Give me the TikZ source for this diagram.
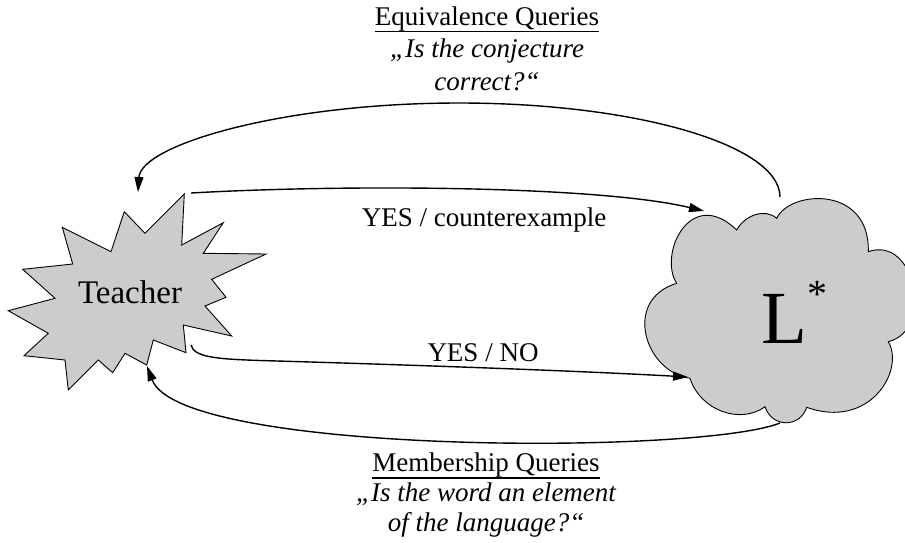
\documentclass[tikz,border=0pt]{standalone}
\usepackage{fontspec}
\setmainfont{Liberation Serif}
\usetikzlibrary{arrows.meta}

% underline drawn a fixed distance below the baseline
\newcommand\ulText[1]{\setbox0\hbox{#1}\rlap{\rule[-7pt]{\wd0}{1.3pt}}\box0}

\tikzset{
  blob/.style={draw=black, line width=0.9pt, fill=black!20, line join=miter},
  flow/.style={line width=1.4pt, -{Triangle[length=15pt,width=9pt]}},
  lbl/.style={inner sep=0pt, anchor=base, font=\fontsize{27}{31}\selectfont},
  qlbl/.style={lbl, font=\fontsize{27}{31}\selectfont\itshape},
}

\begin{document}
\begin{tikzpicture}[x=1pt,y=-1pt]
\useasboundingbox (0,0) rectangle (905,542);

% Teacher: jagged star
\draw[blob] (184.3,194) -- (181.7,245) -- (223.3,222.7) -- (203.3,253.3)
  -- (266,254) -- (211.7,279.3) -- (226,297.3) -- (205,306)
  -- (231.7,336) -- (183.3,325) -- (186,352.7) -- (153.3,340)
  -- (146.7,365) -- (125,353.3) -- (112.7,372.7) -- (98.3,360)
  -- (68.3,390) -- (65,360) -- (24,355.7) -- (48.3,333.3)
  -- (8.3,310.7) -- (55,298.3) -- (22.7,269.3) -- (72.7,264)
  -- (62.3,227.3) -- (111,251.7) -- (124.3,211.7) -- (145,233.3) -- cycle;
\node[lbl, font=\fontsize{33}{33}\selectfont] (teacher) at (130,303.3) {Teacher};

% L*: cloud
\draw[blob] (676.7,283.3)
  .. controls (658,255) and (690,185) .. (736.7,230)
  .. controls (745,215) and (765,208) .. (776.7,218.3)
  .. controls (790,190) and (870,185) .. (868.3,251.7)
  .. controls (915,235) and (935,330) .. (888.3,341.7)
  .. controls (905,370) and (870,430) .. (806.7,407.3)
  .. controls (800,428) and (772,428) .. (765,406.7)
  .. controls (740,425) and (700,410) .. (690,378.3)
  .. controls (645,372) and (622,300) .. (676.7,283.3) -- cycle;
\node[inner sep=0pt, anchor=base west, font=\fontsize{75}{75}\selectfont]
  (learner) at (761.4,343) {L\raisebox{35.7pt}{\fontsize{40}{40}\selectfont *}};

% connector end points on the two shapes
\coordinate (teacherTop) at (138,192);
\coordinate (teacherUpper) at (191,193);
\coordinate (teacherLower) at (191,345);
\coordinate (teacherBottom) at (147,366);
\coordinate (cloudAbove) at (780,197);
\coordinate (cloudTop) at (704,211);
\coordinate (cloudLeft) at (688,377);
\coordinate (cloudBottom) at (780,423);

% equivalence query and its answer
\draw[flow] (cloudAbove) .. controls (780,145) and (636,103) .. (459,103)
  .. controls (282,103) and (141,145) .. (teacherTop);
\draw[flow] (teacherUpper) .. controls (350,184) and (600,186) .. (cloudTop);

% membership query and its answer
\draw[flow] (teacherLower) .. controls (194,357) and (215,359) .. (260,360.5)
  .. controls (450,366) and (600,372) .. (cloudLeft);
\draw[flow] (cloudBottom) .. controls (700,455) and (180,455) .. (teacherBottom);

% labels
\node[lbl] (ceLabel) at (484,226.7) {YES / counterexample};
\node[lbl] (ynLabel) at (483,361.7) {YES / NO};

\node[lbl] (eqTitle) at (487,25) {\ulText{Equivalence Queries}};
\node[qlbl] (eqLineA) at (487,57.5) {„Is the conjecture};
\node[qlbl] (eqLineB) at (487,90) {correct?“};

\node[lbl] (memTitle) at (486,471.7) {\ulText{Membership Queries}};
\node[qlbl] (memLineA) at (486,501.7) {„Is the word an element};
\node[qlbl] (memLineB) at (486,531.7) {of the language?“};
\end{tikzpicture}
\end{document}
